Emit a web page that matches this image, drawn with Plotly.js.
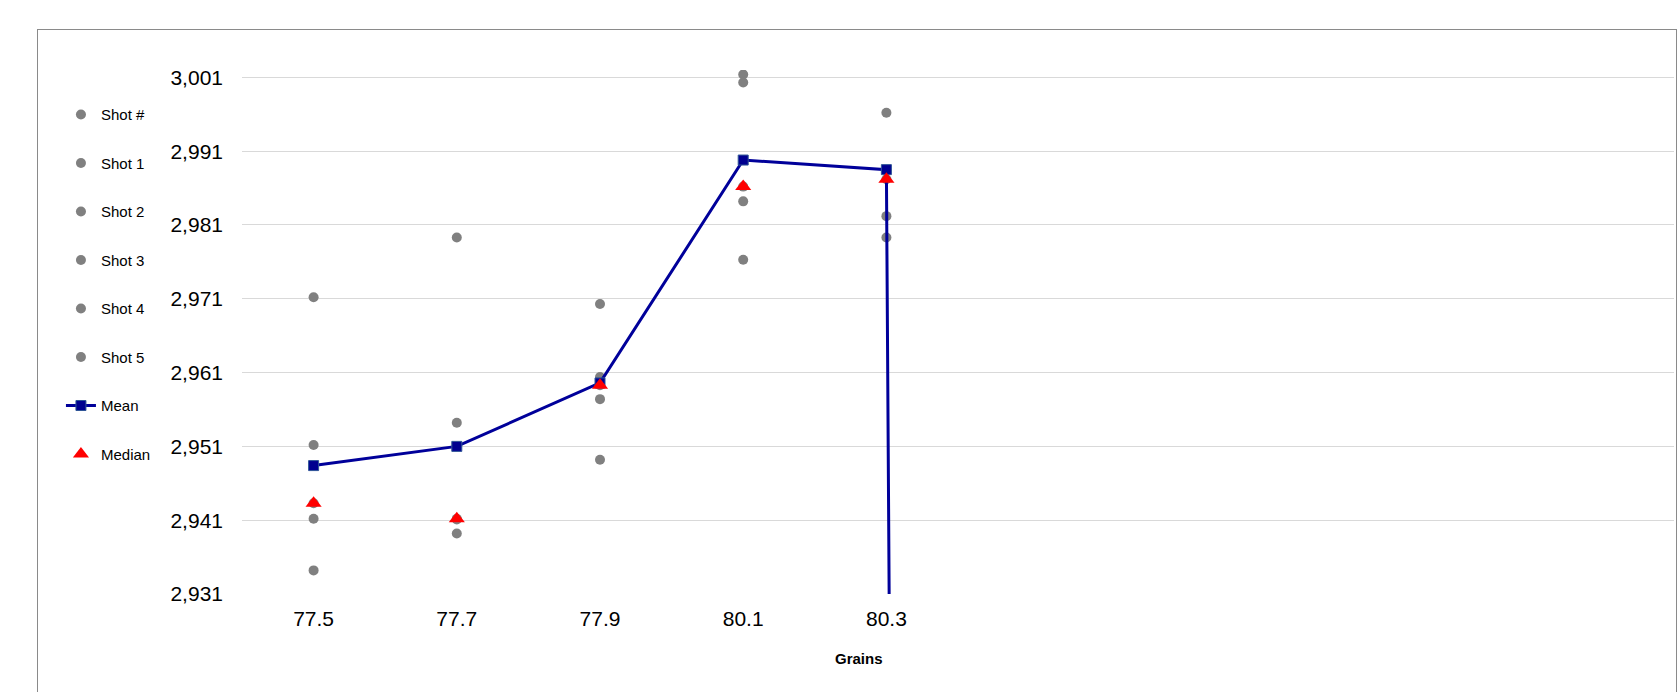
<!DOCTYPE html>
<html>
<head>
<meta charset="utf-8">
<script src="https://cdn.plot.ly/plotly-3.0.1.min.js"></script>
<style>
  html, body { margin: 0; padding: 0; background: #ffffff; }
  #chart { position: absolute; left: 0; top: 0; width: 1679px; height: 692px; }
  #frame { position: absolute; left: 37px; top: 29px; width: 1640px; height: 700px;
           border: 1px solid #8a8a8a; pointer-events: none; box-sizing: border-box; }
</style>
</head>
<body>
<div id="chart"></div>
<div id="frame"></div>
<script>
// Category slots on the x axis (five labelled grain weights, five empty slots)
const categories = ["77.5", "77.7", "77.9", "80.1", "80.3", "", "", "", "", ""];

// Velocities (one value per labelled grain weight)
const shotNum = [null, null, null, null, null];
const shot1 = [2971.2, 2979.3, 2970.3, 3001.4, 2996.2];
const shot2 = [2951.2, 2954.2, 2960.4, 3000.3, 2988.4];
const shot3 = [2943.3, 2941.2, 2959.3, 2986.2, 2987.2];
const shot4 = [2941.2, 2941.1, 2957.4, 2984.2, 2982.2];
const shot5 = [2934.2, 2939.2, 2949.2, 2976.3, 2979.3];
const meanVals = [2948.4, 2951.0, 2959.6, 2989.8, 2988.5, 0];
const medianVals = [2943.3, 2941.2, 2959.3, 2986.2, 2987.2];

const yTicks = [2931, 2941, 2951, 2961, 2971, 2981, 2991, 3001];
const yMin = 2931, yMax = 3002;

const idx = categories.map((c, i) => i);
const xFor = arr => arr.map((v, i) => idx[i]);

const FONT = "Liberation Sans, Arial, sans-serif";
const GREY = "#808080";

function shotTrace(name, vals) {
  return {
    type: "scatter", mode: "markers", name: name, legendgroup: name,
    x: xFor(vals), y: vals,
    marker: { color: GREY, size: 10, symbol: "circle", line: { width: 0 } },
    hoverinfo: "x+y+name"
  };
}

const traces = [
  shotTrace("Shot #", shotNum),
  shotTrace("Shot 1", shot1),
  shotTrace("Shot 2", shot2),
  shotTrace("Shot 3", shot3),
  shotTrace("Shot 4", shot4),
  shotTrace("Shot 5", shot5),
  {
    type: "scatter", mode: "lines+markers", name: "Mean", legendgroup: "Mean",
    x: xFor(meanVals), y: meanVals,
    line: { color: "#00009a", width: 3 },
    marker: { symbol: "square", size: 10, color: "#00008f", line: { color: "#2f5597", width: 1 } }
  },
  {
    type: "scatter", mode: "markers", name: "Median", legendgroup: "Median",
    x: xFor(medianVals), y: medianVals,
    marker: { symbol: "triangle-up", size: 14, color: "#ff0000", line: { width: 0 } }
  }
];

const layout = {
  width: 1679, height: 692,
  paper_bgcolor: "#ffffff", plot_bgcolor: "#ffffff",
  margin: { l: 242, r: 5, t: 70, b: 98, pad: 0 },
  font: { family: FONT, color: "#000000" },
  showlegend: true,
  legend: {
    xref: "container", yref: "container",
    x: 0.0363, y: 0.858, xanchor: "left", yanchor: "top",
    font: { family: FONT, size: 15, color: "#000000" },
    tracegroupgap: 26, bgcolor: "rgba(0,0,0,0)", borderwidth: 0,
    maxheight: 600
  },
  xaxis: {
    type: "linear", range: [-0.5, categories.length - 0.5],
    tickmode: "array", tickvals: idx, ticktext: categories,
    showgrid: false, zeroline: false, showline: false, ticks: "",
    tickfont: { family: FONT, size: 21, color: "#000000" },
    ticklabelstandoff: 10, fixedrange: true
  },
  yaxis: {
    range: [yMin, yMax],
    tickmode: "array", tickvals: yTicks, tickformat: ",d",
    showgrid: true, gridcolor: "#d9d9d9", gridwidth: 1,
    zeroline: false, showline: false, ticks: "",
    tickfont: { family: FONT, size: 21, color: "#000000" },
    ticklabelstandoff: 18, fixedrange: true
  },
  annotations: [{
    text: "<b>Grains</b>", xref: "paper", yref: "paper",
    x: 0.4311, y: -0.124, xanchor: "center", yanchor: "middle",
    showarrow: false, font: { family: FONT, size: 15, color: "#000000" }
  }]
};

Plotly.newPlot("chart", traces, layout, { displayModeBar: false, staticPlot: true });
</script>
</body>
</html>
